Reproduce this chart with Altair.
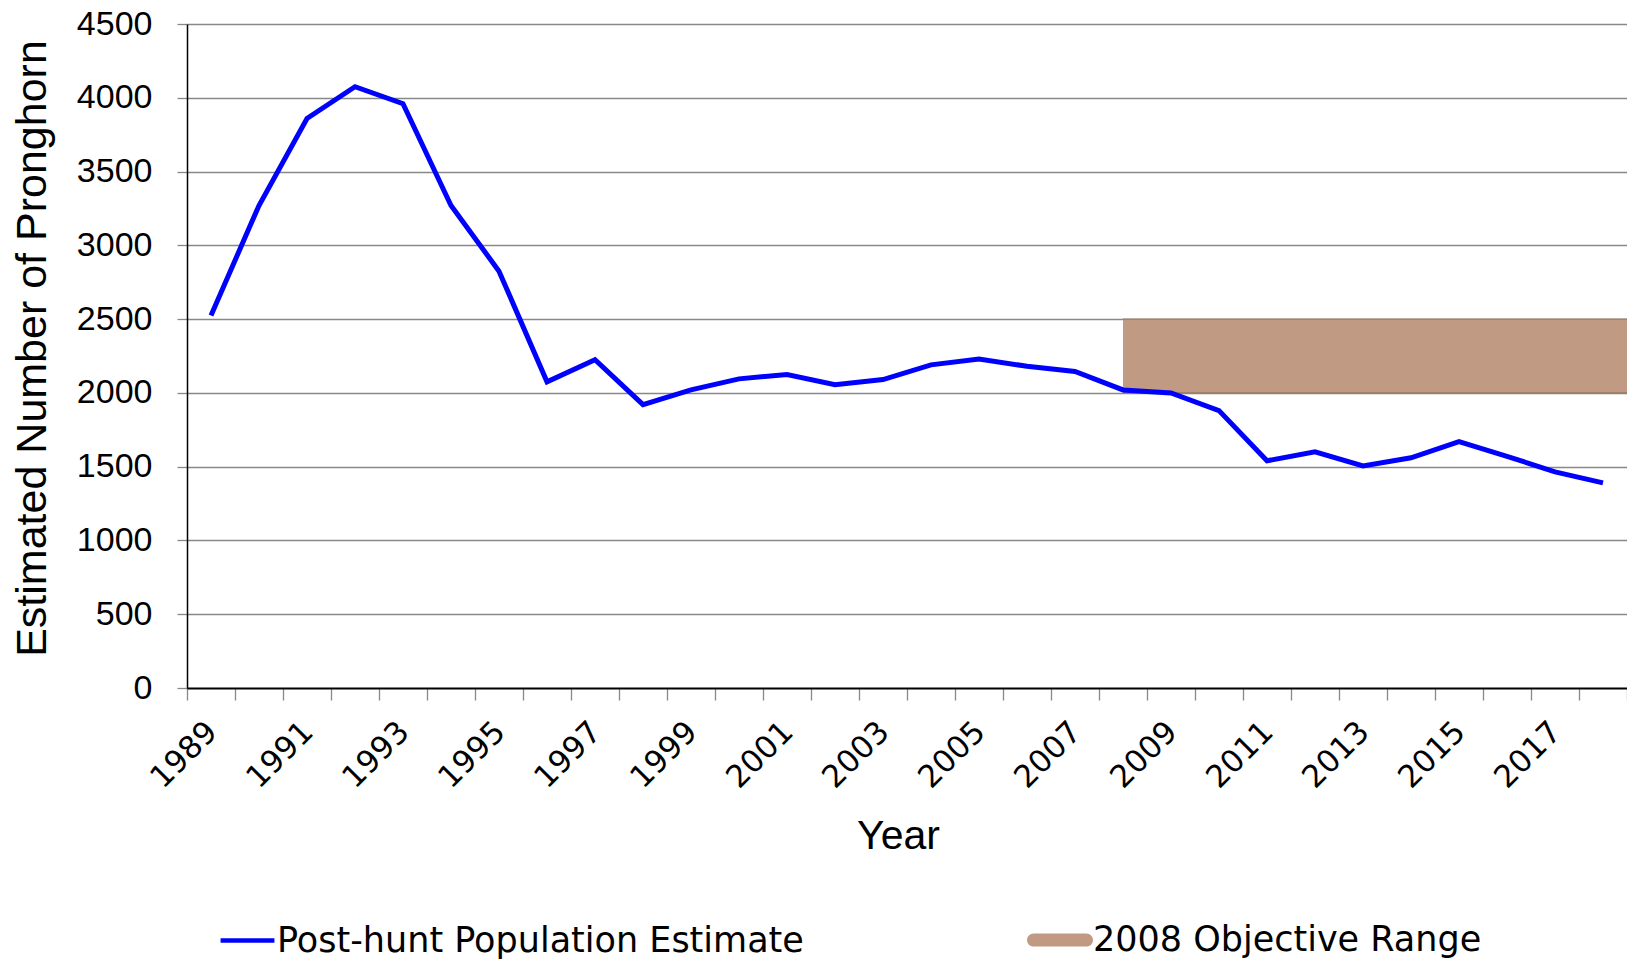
import altair as alt
import pandas as pd

# ---- data ----
years = list(range(1989, 2019))
population = [2525, 3270, 3860, 4075, 3960, 3270, 2825, 2075, 2225, 1920,
              2020, 2095, 2125, 2055, 2090, 2190, 2230, 2180, 2145, 2020,
              2000, 1880, 1540, 1600, 1505, 1560, 1670, 1570, 1465, 1390]
series_line = "Post-hunt Population Estimate"
series_range = "2008 Objective Range"
range_start = [2008]
range_end = [2018.5]
range_low = [2000]
range_high = [2500]
y_ticks = [0, 500, 1000, 1500, 2000, 2500, 3000, 3500, 4000, 4500]
label_years = years[::2]
band_edges = [y - 0.5 for y in years] + [years[-1] + 0.5]

line_df = pd.DataFrame({"Year": years, "Population": population, "Series": series_line})
range_df = pd.DataFrame({"start": range_start, "end": range_end,
                         "low": range_low, "high": range_high,
                         "Series": [series_range]})

x_scale = alt.Scale(domain=[band_edges[0], band_edges[-1]], nice=False, zero=False)
y_scale = alt.Scale(domain=[0, 4500], nice=False)

# axis carrying tick marks at category boundaries
x_tick_axis = alt.Axis(
    orient="bottom", values=band_edges, labels=False, title=None,
    tickSize=12, tickColor="#888888", tickWidth=1.3,
    domainColor="black", domainWidth=1.5, grid=False,
)
# axis carrying the year labels at category centres
x_label_axis = alt.Axis(
    orient="bottom", values=label_years, format="d",
    labelAngle=-45, labelAlign="right", labelBaseline="middle",
    labelFont="DejaVu Sans", labelFontSize=31, labelColor="black",
    labelPadding=39, labelOffset=1, labelOverlap=False, labelFlush=False,
    ticks=False, tickSize=0,
    domainColor="black", domainWidth=1.5, grid=False,
    title="Year", titleFont="Liberation Sans", titleFontSize=41,
    titleFontWeight="normal", titleColor="black", titlePadding=23, titleX=711,
)
y_axis = alt.Axis(
    values=y_ticks, format="d",
    labelFont="Liberation Sans", labelFontSize=34, labelColor="black", labelPadding=25,
    tickSize=10, tickColor="#888888", tickWidth=1.3,
    grid=True, gridColor="#888888", gridWidth=1.3,
    domainColor="black", domainWidth=1.5,
    title="Estimated Number of Pronghorn", titleFont="Liberation Sans",
    titleFontSize=43, titleFontWeight="normal", titleColor="black", titlePadding=22,
    titleY=324,
)
line_legend = alt.Legend(
    title=None, orient="none", legendX=31, legendY=887, direction="horizontal",
    symbolType="stroke", symbolSize=2900, symbolStrokeWidth=4.5,
    labelFont="DejaVu Sans", labelFontSize=35, labelColor="black",
    labelOffset=0, labelLimit=1000,
)
pill = "M -0.8 -0.2 L 0.8 -0.2 A 0.2 0.2 0 0 1 0.8 0.2 L -0.8 0.2 A 0.2 0.2 0 0 1 -0.8 -0.2 Z"
range_legend = alt.Legend(
    title=None, orient="none", legendX=840, legendY=883, direction="horizontal",
    symbolType=pill, symbolSize=4356, symbolStrokeWidth=0, symbolOpacity=1,
    labelFont="DejaVu Sans", labelFontSize=35, labelColor="black",
    labelOffset=0, labelLimit=1000,
)

band = alt.Chart(range_df).mark_rect(opacity=1).encode(
    x=alt.X("start:Q", scale=x_scale, axis=x_tick_axis),
    x2="end:Q",
    y=alt.Y("low:Q", scale=y_scale, axis=y_axis),
    y2="high:Q",
    fill=alt.Fill("Series:N", scale=alt.Scale(domain=[series_range], range=["#C09A82"]),
                  legend=range_legend),
)
edge_top = alt.Chart(range_df).mark_rule(color="#9A7A62", strokeWidth=1.3).encode(
    x=alt.X("start:Q", scale=x_scale, axis=None), x2="end:Q",
    y=alt.Y("high:Q", scale=y_scale, axis=y_axis))
edge_bottom = alt.Chart(range_df).mark_rule(color="#9A7A62", strokeWidth=1.3).encode(
    x=alt.X("start:Q", scale=x_scale, axis=None), x2="end:Q",
    y=alt.Y("low:Q", scale=y_scale, axis=y_axis))
line = alt.Chart(line_df).mark_line(strokeWidth=5).encode(
    x=alt.X("Year:Q", scale=x_scale, axis=x_label_axis),
    y=alt.Y("Population:Q", scale=y_scale, axis=y_axis),
    stroke=alt.Stroke("Series:N", scale=alt.Scale(domain=[series_line], range=["#0000FF"]),
                      legend=line_legend),
)

chart = alt.layer(band, edge_top, edge_bottom, line).resolve_axis(
    x="independent"
).properties(
    width=1440, height=664,
    autosize=alt.AutoSizeParams(type="none"),
    padding={"left": 179, "top": 16, "right": 0, "bottom": 271},
    background="white",
).configure_view(strokeWidth=0)

chart.save("out.html", embed_options={"renderer": "svg", "actions": False})
